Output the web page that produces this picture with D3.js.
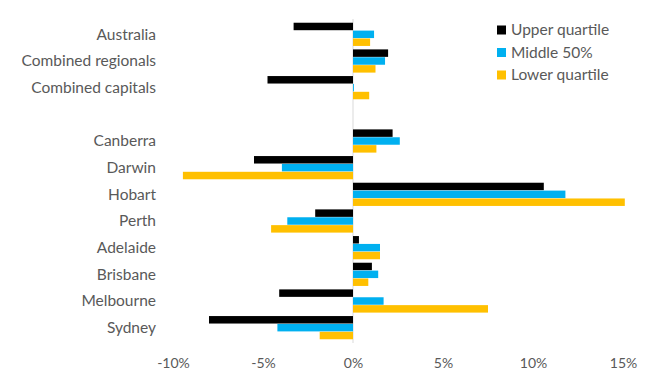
<!DOCTYPE html>
<html>
<head>
<meta charset="utf-8">
<script src="https://cdn.jsdelivr.net/npm/d3@7"></script>
<style>
  body { margin: 0; background: #fff; }
  text { font-family: Lato, "Open Sans", sans-serif; fill: #595959; }
</style>
</head>
<body>
<div id="chart"></div>
<script>
  // categories top to bottom, with an empty slot between the aggregates and the cities
  let categories = ['Australia', 'Combined regionals', 'Combined capitals', '',
    'Canberra', 'Darwin', 'Hobart', 'Perth', 'Adelaide', 'Brisbane', 'Melbourne', 'Sydney'];

  let seriesNames = ['Upper quartile', 'Middle 50%', 'Lower quartile'];
  let seriesColors = ['#000000', '#00b0f0', '#ffc000'];

  let upperQuartile = [-3.3, 1.95, -4.75, null, 2.2, -5.5, 10.6, -2.1, 0.33, 1.05, -4.1, -8.0];
  let middle50 = [1.17, 1.78, 0.05, null, 2.6, -3.95, 11.8, -3.65, 1.5, 1.4, 1.7, -4.2];
  let lowerQuartile = [0.95, 1.25, 0.9, null, 1.3, -9.45, 15.1, -4.55, 1.5, 0.85, 7.5, -1.85];

  let xTicks = [-10, -5, 0, 5, 10, 15];

  let seriesValues = [upperQuartile, middle50, lowerQuartile];

  let width = 672;
  let height = 386;

  let svg = d3.select('#chart')
    .append('svg')
    .attr('width', width)
    .attr('height', height);

  let keys = categories.map((c, i) => i);

  let x = d3.scaleLinear().domain([-10, 15]).range([173, 623]);

  let y = d3.scaleBand()
    .domain(keys)
    .range([21, 341])
    .paddingInner(0.1)
    .paddingOuter(0.05);

  let ySub = d3.scaleBand()
    .domain(d3.range(seriesNames.length))
    .range([0, y.bandwidth()])
    .padding(0.05);

  // zero line
  svg.append('line')
    .attr('x1', x(0)).attr('x2', x(0))
    .attr('y1', 19).attr('y2', 343)
    .attr('stroke', '#d9d9d9')
    .attr('stroke-width', 1);

  let rows = [];
  seriesValues.forEach((vals, s) => {
    vals.forEach((v, i) => {
      if (v !== null) rows.push({ s: s, i: i, v: v });
    });
  });

  svg.append('g')
    .selectAll('rect')
    .data(rows)
    .enter()
    .append('rect')
    .attr('x', (d) => x(Math.min(0, d.v)))
    .attr('y', (d) => y(d.i) + ySub(d.s))
    .attr('width', (d) => Math.abs(x(d.v) - x(0)))
    .attr('height', ySub.bandwidth())
    .attr('fill', (d) => seriesColors[d.s]);

  // category labels
  svg.append('g')
    .selectAll('text')
    .data(keys)
    .enter()
    .append('text')
    .attr('x', 156)
    .attr('y', (d) => y(d) + y.bandwidth() / 2)
    .attr('dy', '0.35em')
    .attr('text-anchor', 'end')
    .style('font-size', '15.5px')
    .text((d) => categories[d]);

  // x axis labels
  let xAxis = svg.append('g')
    .attr('transform', 'translate(0, 363)')
    .call(d3.axisBottom(x).tickValues(xTicks).tickSize(0).tickFormat((d) => d + '%'));
  xAxis.select('.domain').remove();
  xAxis.selectAll('text')
    .attr('dy', '0.35em')
    .attr('y', 0)
    .style('font-size', '14px')
    .style('font-family', 'Lato, "Open Sans", sans-serif')
    .attr('fill', '#595959');

  // legend
  let legend = svg.append('g').attr('transform', 'translate(497, 30)');
  seriesNames.forEach((name, i) => {
    let row = legend.append('g').attr('transform', `translate(0, ${i * 22.5})`);
    row.append('rect')
      .attr('x', 0).attr('y', -4.5)
      .attr('width', 9).attr('height', 9)
      .attr('fill', seriesColors[i]);
    row.append('text')
      .attr('x', 14)
      .attr('dy', '0.35em')
      .style('font-size', '15.5px')
      .text(name);
  });
</script>
</body>
</html>
